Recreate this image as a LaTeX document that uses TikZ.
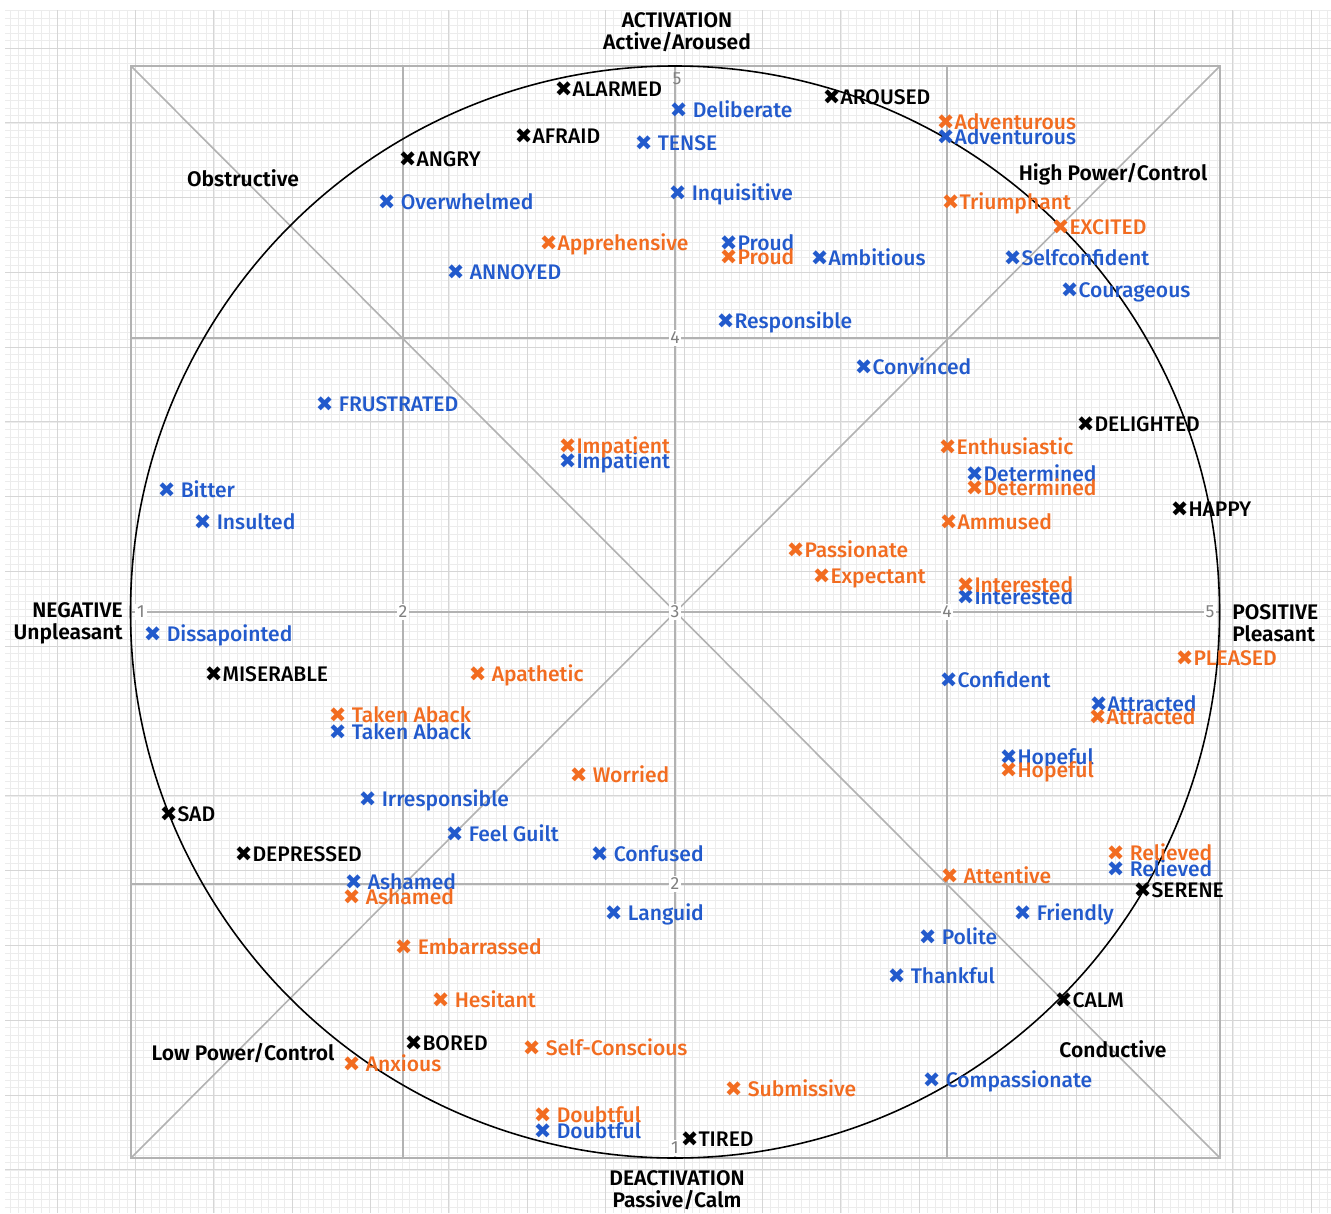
\documentclass[tikz,border=0pt]{standalone}
\usepackage{fontspec}
\setmainfont{Fira Sans}
\newfontfamily\emofont{Fira Sans Medium}
\newfontfamily\titlefont{Fira Sans SemiBold}
\newfontfamily\crossfont{DejaVu Sans}
\definecolor{emoblue}{RGB}{34,90,204}
\definecolor{emoorange}{RGB}{242,108,32}
\definecolor{gridmajor}{RGB}{214,214,214}
\definecolor{gridminor}{RGB}{236,236,236}
\definecolor{framegray}{RGB}{178,178,178}
\newcommand{\xm}{{\crossfont ✖}}

\begin{document}
\begin{tikzpicture}[
    x=0.02cm, y=-0.02cm,
    minorline/.style={gridminor, line width=0.3pt},
    majorline/.style={gridmajor, line width=0.5pt},
    frameline/.style={framegray, line width=0.9pt},
    ring/.style={black, line width=0.9pt},
    axisnum/.style={font=\fontsize{10}{10}\selectfont, text=gray, fill=white, inner sep=1pt},
    axistitle/.style={font=\fontsize{12}{12.5}\selectfont\titlefont, inner sep=0pt},
    region/.style={font=\fontsize{12}{12}\selectfont\titlefont, inner sep=0pt},
    emo/.style={anchor=base west, inner sep=0pt, xshift=-0.17cm, yshift=-0.14cm, font=\fontsize{12}{12}\selectfont\emofont},
    blueemo/.style={emo, text=emoblue},
    orangeemo/.style={emo, text=emoorange},
    blackemo/.style={emo, text=black},
]
    \useasboundingbox (0,0) rectangle (1331,1213);
    \fill[white] (0,0) rectangle (1331,1213);

    % paper grid
    \begin{scope}[shift={(57,48)}]
        \draw[minorline] (-52,1165) grid[xstep=0.1568cm, ystep=0.1496cm] (1274,-38);
        \draw[majorline] (-52,1165) grid[xstep=1.568cm, ystep=1.496cm] (1274,-38);
    \end{scope}

    % frame, axes and diagonals
    \coordinate (tl) at (131,66);
    \coordinate (tr) at (1220,66);
    \coordinate (bl) at (131,1158);
    \coordinate (br) at (1220,1158);
    \draw[frameline] (tl) rectangle (br);
    \draw[frameline] (tl) -- (br);
    \draw[frameline] (bl) -- (tr);
    \foreach \gx in {403,675,947} {
        \draw[frameline] (\gx,66) -- (\gx,1158);
    }
    \foreach \gy in {338,612,884} {
        \draw[frameline] (131,\gy) -- (1220,\gy);
    }
    \draw[ring] (675,612) ellipse [x radius=544.5, y radius=546];

    % scale numbers
    \node[axisnum] (h1) at (141,612) {1};
    \node[axisnum] (h2) at (403,612) {2};
    \node[axisnum] (h3) at (675,612) {3};
    \node[axisnum] (h4) at (947,612) {4};
    \node[axisnum] (h5) at (1210,612) {5};
    \node[axisnum, fill=none] (v5) at (677,79) {5};
    \node[axisnum] (v4) at (675,338) {4};
    \node[axisnum] (v2) at (675,884) {2};
    \node[axisnum] (v1) at (675,1148) {1};

    % axis titles
    \node[axistitle, align=center] (activation) at (677,32) {ACTIVATION\\Active/Aroused};
    \node[axistitle, align=center] (deactivation) at (677,1190) {DEACTIVATION\\Passive/Calm};
    \node[axistitle, align=right, anchor=east] (negative) at (123,623) {NEGATIVE\\Unpleasant};
    \node[axistitle, align=left, anchor=west] (positive) at (1232,623) {POSITIVE\\Pleasant};

    % quadrant names
    \node[region] (obstructive) at (243,178) {Obstructive};
    \node[region] (highpower) at (1113,174) {High Power/Control};
    \node[region] (lowpower) at (243,1053) {Low Power/Control};
    \node[region] (conductive) at (1113,1049) {Conductive};

    % black emotions
    \node[blackemo] (alarmed) at (563,90) {\xm ALARMED};
    \node[blackemo] (afraid) at (523,137) {\xm AFRAID};
    \node[blackemo] (angry) at (407,160) {\xm ANGRY};
    \node[blackemo] (aroused) at (831,98) {\xm AROUSED};
    \node[blackemo] (delighted) at (1085,424) {\xm DELIGHTED};
    \node[blackemo] (happy) at (1179,509) {\xm HAPPY};
    \node[blackemo] (miserable) at (213,674) {\xm MISERABLE};
    \node[blackemo] (sad) at (168,814) {\xm SAD};
    \node[blackemo] (depressed) at (243,854) {\xm DEPRESSED};
    \node[blackemo] (bored) at (413,1043) {\xm BORED};
    \node[blackemo] (tired) at (689,1139) {\xm TIRED};
    \node[blackemo] (serene) at (1142,890) {\xm SERENE};
    \node[blackemo] (calm) at (1063,1000) {\xm CALM};

    % blue emotions
    \node[blueemo] (deliberateB) at (678,111) {\xm\ Deliberate};
    \node[blueemo] (tenseB) at (643,144) {\xm\ TENSE};
    \node[blueemo] (inquisitiveB) at (677,194) {\xm\ Inquisitive};
    \node[blueemo] (overwhelmedB) at (386,203) {\xm\ Overwhelmed};
    \node[blueemo] (annoyedB) at (455,273) {\xm\ ANNOYED};
    \node[blueemo] (proudB) at (728,244) {\xm Proud};
    \node[blueemo] (ambitiousB) at (819,259) {\xm Ambitious};
    \node[blueemo] (responsibleB) at (725,322) {\xm Responsible};
    \node[blueemo] (convincedB) at (863,367) {\xm Convinced};
    \node[blueemo] (adventurousB) at (945,138) {\xm Adventurous};
    \node[blueemo] (selfconfidentB) at (1012,259) {\xm Selfconfident};
    \node[blueemo] (courageousB) at (1069,290) {\xm Courageous};
    \node[blueemo] (frustratedB) at (324,404) {\xm\ FRUSTRATED};
    \node[blueemo] (impatientB) at (567,461) {\xm Impatient};
    \node[blueemo] (bitterB) at (166,490) {\xm\ Bitter};
    \node[blueemo] (insultedB) at (202,522) {\xm\ Insulted};
    \node[blueemo] (determinedB) at (974,474) {\xm Determined};
    \node[blueemo] (interestedB) at (965,597) {\xm Interested};
    \node[blueemo] (dissapointedB) at (152,634) {\xm\ Dissapointed};
    \node[blueemo] (confidentB) at (948,680) {\xm Confident};
    \node[blueemo] (attractedB) at (1098,704) {\xm Attracted};
    \node[blueemo] (takenabackB) at (337,732) {\xm\ Taken Aback};
    \node[blueemo] (hopefulB) at (1008,757) {\xm Hopeful};
    \node[blueemo] (irresponsibleB) at (367,799) {\xm\ Irresponsible};
    \node[blueemo] (feelguiltB) at (454,834) {\xm\ Feel Guilt};
    \node[blueemo] (confusedB) at (599,854) {\xm\ Confused};
    \node[blueemo] (ashamedB) at (353,882) {\xm\ Ashamed};
    \node[blueemo] (languidB) at (613,913) {\xm\ Languid};
    \node[blueemo] (relievedB) at (1115,869) {\xm\ Relieved};
    \node[blueemo] (friendlyB) at (1022,913) {\xm\ Friendly};
    \node[blueemo] (politeB) at (927,937) {\xm\ Polite};
    \node[blueemo] (thankfulB) at (896,976) {\xm\ Thankful};
    \node[blueemo] (compassionateB) at (931,1080) {\xm\ Compassionate};
    \node[blueemo] (doubtfulB) at (542,1131) {\xm\ Doubtful};

    % orange emotions
    \node[orangeemo] (adventurousO) at (945,123) {\xm Adventurous};
    \node[orangeemo] (triumphantO) at (950,203) {\xm Triumphant};
    \node[orangeemo] (excitedO) at (1060,228) {\xm EXCITED};
    \node[orangeemo] (apprehensiveO) at (548,244) {\xm Apprehensive};
    \node[orangeemo] (proudO) at (728,258) {\xm Proud};
    \node[orangeemo] (impatientO) at (567,446) {\xm Impatient};
    \node[orangeemo] (enthusiasticO) at (947,447) {\xm Enthusiastic};
    \node[orangeemo] (determinedO) at (974,488) {\xm Determined};
    \node[orangeemo] (ammusedO) at (948,522) {\xm Ammused};
    \node[orangeemo] (passionateO) at (795,550) {\xm Passionate};
    \node[orangeemo] (expectantO) at (821,576) {\xm Expectant};
    \node[orangeemo] (interestedO) at (965,585) {\xm Interested};
    \node[orangeemo] (pleasedO) at (1184,658) {\xm PLEASED};
    \node[orangeemo] (apatheticO) at (477,674) {\xm\ Apathetic};
    \node[orangeemo] (takenabackO) at (337,715) {\xm\ Taken Aback};
    \node[orangeemo] (attractedO) at (1097,717) {\xm Attracted};
    \node[orangeemo] (hopefulO) at (1008,770) {\xm Hopeful};
    \node[orangeemo] (worriedO) at (578,775) {\xm\ Worried};
    \node[orangeemo] (ashamedO) at (351,897) {\xm\ Ashamed};
    \node[orangeemo] (attentiveO) at (949,876) {\xm\ Attentive};
    \node[orangeemo] (relievedO) at (1115,853) {\xm\ Relieved};
    \node[orangeemo] (embarrassedO) at (403,947) {\xm\ Embarrassed};
    \node[orangeemo] (hesitantO) at (440,1000) {\xm\ Hesitant};
    \node[orangeemo] (selfconsciousO) at (531,1048) {\xm\ Self-Conscious};
    \node[orangeemo] (anxiousO) at (351,1064) {\xm\ Anxious};
    \node[orangeemo] (submissiveO) at (733,1089) {\xm\ Submissive};
    \node[orangeemo] (doubtfulO) at (542,1115) {\xm\ Doubtful};
\end{tikzpicture}
\end{document}
